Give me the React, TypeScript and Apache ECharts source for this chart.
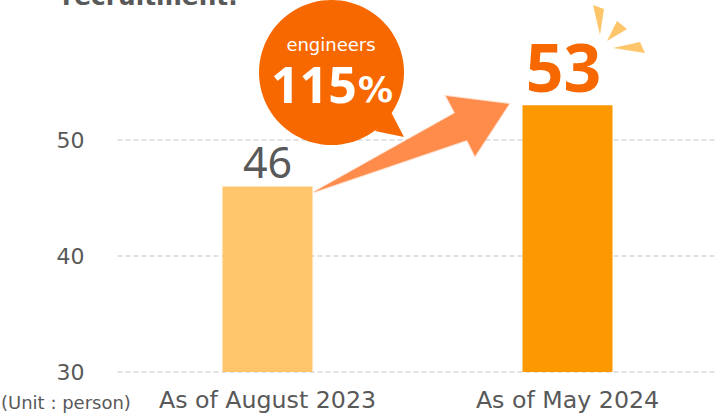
import React, { useEffect, useRef } from "react";
import * as echarts from "echarts";

const categories = ["As of August 2023", "As of May 2024"];
const values = [46, 53];
const barColors = ["#FFC56B", "#FC9900"];
const labelColors = ["#595959", "#F76800"];
const labelWeights = [400, 700];
const labelSizes = [43, 66];
const labelDistances = [3, 6];
const labelShifts = [0, -4];
const GREY = "#595959";
const FONT = "'DejaVu Sans', Verdana, sans-serif";
const NUM = "'Noto Sans', sans-serif";

const sparks = [
  [[593, 5], [604, 9], [600, 35]],
  [[617, 21], [627, 29], [607, 41]],
  [[613, 48], [640, 42], [645, 53]],
];
const arrow = [[446, 96], [509, 104], [475, 156], [467, 140], [314, 192], [455, 113]];
const tail = [[375, 131], [391, 112], [404, 137]];

export default function App() {
  const ref = useRef<HTMLDivElement>(null);
  useEffect(() => {
    const chart = echarts.init(ref.current!, null, { renderer: "svg" });
    chart.setOption({
      animation: false,
      grid: { left: 117.5, right: 0.5, top: 24, bottom: 41 },
      xAxis: {
        type: "category",
        data: categories,
        axisLine: { show: false },
        axisTick: { show: false },
        axisLabel: { color: GREY, fontFamily: FONT, fontSize: 23.7, margin: 16 },
      },
      yAxis: {
        type: "value",
        min: 30,
        max: 60,
        interval: 10,
        axisLine: { show: false },
        axisTick: { show: false },
        axisLabel: {
          color: GREY,
          fontFamily: FONT,
          fontSize: 22,
          margin: 33,
          showMaxLabel: false,
        },
        splitLine: {
          showMaxLine: false,
          lineStyle: { color: "#D9D9D9", type: [5, 3], width: 1.5 },
        },
      },
      series: [
        {
          type: "bar",
          barWidth: 90,
          data: values.map((v, i) => ({
            value: v,
            itemStyle: { color: barColors[i] },
            label: {
              show: true,
              position: "top",
              distance: labelDistances[i],
              offset: [labelShifts[i], 0],
              color: labelColors[i],
              fontWeight: labelWeights[i],
              fontFamily: NUM,
              fontSize: labelSizes[i],
            },
          })),
        },
      ],
      graphic: [
        {
          type: "text",
          x: 62,
          y: -16,
          z: 10,
          style: { text: "recruitment.", fill: GREY, font: `bold 24.8px ${FONT}` },
        },
        { type: "circle", z: 10, shape: { cx: 331.5, cy: 72.5, r: 72.5 }, style: { fill: "#F76800" } },
        { type: "polygon", z: 10, shape: { points: tail }, style: { fill: "#F76800" } },
        {
          type: "text",
          x: 331,
          y: 44,
          z: 11,
          style: { text: "engineers", fill: "#fff", align: "center", verticalAlign: "middle", font: `18px ${FONT}` },
        },
        {
          type: "text",
          x: 271,
          y: 84,
          z: 11,
          style: { text: "115", fill: "#fff", align: "left", verticalAlign: "middle", font: `bold 50px ${NUM}` },
        },
        {
          type: "text",
          x: 358,
          y: 90,
          z: 11,
          style: { text: "%", fill: "#fff", align: "left", verticalAlign: "middle", font: `bold 35px ${FONT}` },
        },
        {
          type: "polygon",
          z: 9,
          shape: { points: arrow },
          style: { fill: "#FF8C4B", stroke: "rgba(255,140,75,0.3)", lineWidth: 2 },
        },
        ...sparks.map((points) => ({
          type: "polygon",
          z: 9,
          shape: { points },
          style: { fill: "#FFC56B" },
        })),
        {
          type: "text",
          x: 1,
          y: 402,
          z: 10,
          style: { text: "(Unit : person)", fill: GREY, verticalAlign: "middle", font: `18px ${FONT}` },
        },
      ],
    });
    return () => chart.dispose();
  }, []);
  return <div ref={ref} style={{ position: "absolute", left: 0, top: 0, width: 718, height: 413 }} />;
}
